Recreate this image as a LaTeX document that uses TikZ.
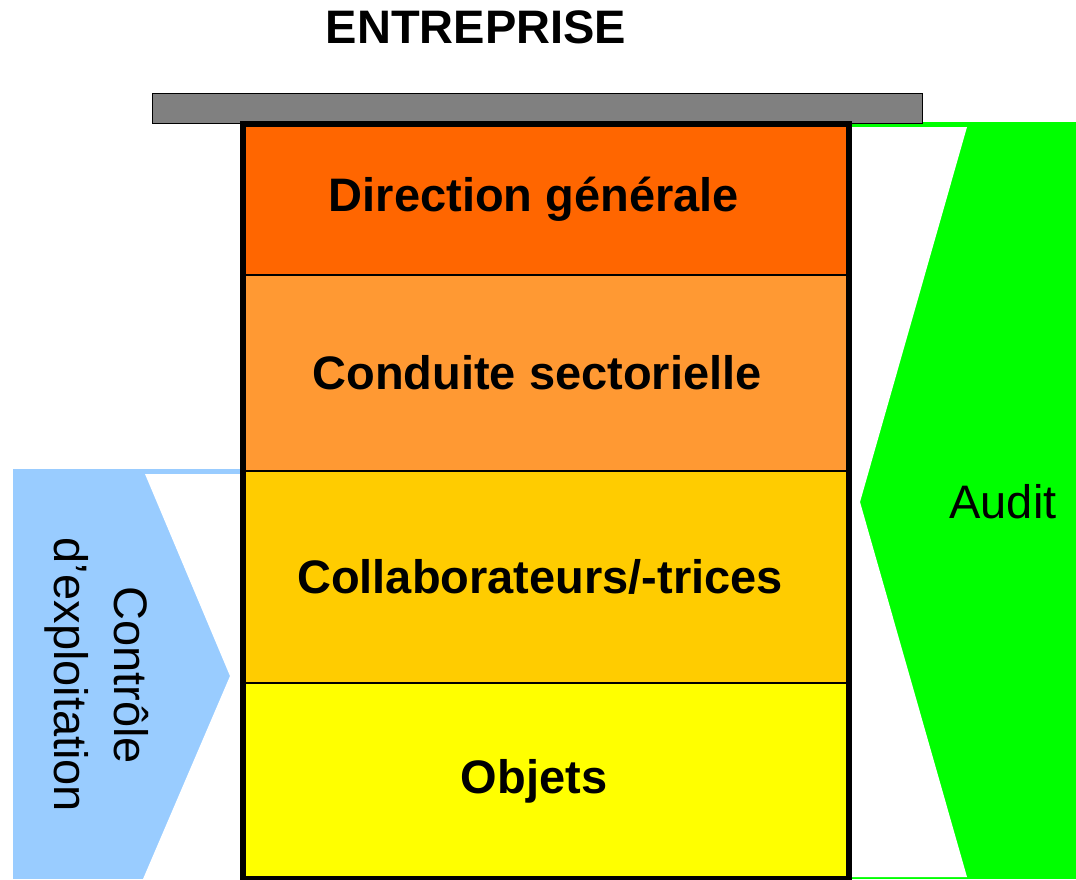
\documentclass[tikz,border=0pt]{standalone}
\usepackage{fontspec}
\setmainfont{Liberation Sans}
\usetikzlibrary{positioning}
\definecolor{dirorange}{HTML}{FF6600}
\definecolor{condorange}{HTML}{FF9933}
\definecolor{collyellow}{HTML}{FFCC00}
\definecolor{objyellow}{HTML}{FFFF00}
\definecolor{auditgreen}{HTML}{00FF00}
\definecolor{ctrlblue}{HTML}{99CCFF}
\definecolor{bargray}{HTML}{808080}
\begin{document}
\begin{tikzpicture}[x=1pt, y=-1pt,
    layer/.style={draw=black, line width=1.5pt, outer sep=0pt, inner sep=0pt, minimum width=606pt, font=\fontsize{47}{56}\selectfont\bfseries},
    bigtext/.style={font=\fontsize{47}{60}\selectfont}]
    \useasboundingbox (0,0) rectangle (1076,879);

    % Side shapes
    \fill[ctrlblue] (13,469) rectangle (240,879);
    \fill[white] (145,474) -- (240,474) -- (240,879) -- (143,879) -- (230,676) -- cycle;
    \fill[auditgreen] (850,122) rectangle (1076,879);
    \fill[white] (851,127) -- (967,127) -- (860,502) -- (967,877) -- (851,877) -- cycle;

    % Roof
    \node[draw=black, fill=bargray, line width=1pt, minimum width=770pt, minimum height=30pt] (roof) at (537,108) {};

    % Define layers
    \node[layer, fill=dirorange, minimum height=151pt, anchor=north west] (dir) at (243,124) {\kern-24pt Direction générale};
    \node[layer, fill=condorange, minimum height=196pt, below=0pt of dir] (cond) {\kern-18pt Conduite sectorielle};
    \node[layer, fill=collyellow, minimum height=212pt, below=0pt of cond] (coll) {\kern-12pt Collaborateurs/-trices};
    \node[layer, fill=objyellow, minimum height=196pt, below=0pt of coll] (obj) {\kern-24pt Objets};
    \draw[line width=6pt] (dir.north west) rectangle (obj.south east);

    % Labels
    \node[bigtext, font=\fontsize{47}{60}\selectfont\bfseries] (ent) at (476,27) {ENTREPRISE};
    \node[bigtext] (audit) at (1003,502) {Audit};
    \node[bigtext, rotate=-90, align=center] (ctrl) at (97,675) {Contrôle\\d’exploitation};
\end{tikzpicture}
\end{document}
